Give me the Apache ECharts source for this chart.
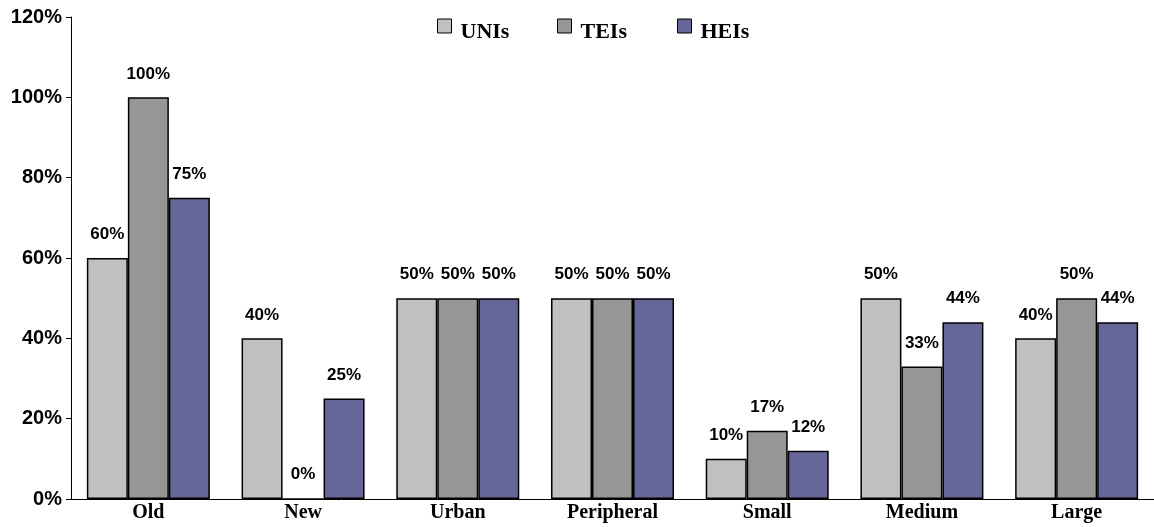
<!DOCTYPE html>
<html>
<head>
<meta charset="utf-8">
<script src="https://cdn.jsdelivr.net/npm/echarts@6/dist/echarts.min.js"></script>
<style>html,body{margin:0;padding:0;background:#fff;}#c{width:1154px;height:527px;}</style>
</head>
<body>
<div id="c"></div>
<script>
const categories = ['Old', 'New', 'Urban', 'Peripheral', 'Small', 'Medium', 'Large'];
const seriesNames = ['UNIs', 'TEIs', 'HEIs'];
const uniValues = [60, 40, 50, 50, 10, 50, 40];
const teiValues = [100, 0, 50, 50, 17, 33, 50];
const heiValues = [75, 25, 50, 50, 12, 44, 44];
const yTicks = [0, 20, 40, 60, 80, 100, 120];

const colors = ['#C0C0C0', '#969696', '#666699'];
const allValues = [uniValues, teiValues, heiValues];
const legendLefts = [437, 557, 677];

const chart = echarts.init(document.getElementById('c'), null, {renderer: 'canvas'});
chart.setOption({
  animation: false,
  grid: {left: 71, top: 17, width: 1085, bottom: 28, containLabel: false},
  legend: seriesNames.map((n, i) => ({
    top: 9, left: legendLefts[i], padding: 0,
    itemWidth: 14, itemHeight: 14,
    icon: 'rect',
    itemStyle: {borderColor: '#000', borderWidth: 1},
    formatter: '{t|{name}}',
    textStyle: {
      rich: {t: {fontFamily: 'Liberation Serif', fontWeight: 'bold', fontSize: 22, color: '#000', padding: [12, 0, 0, 4], lineHeight: 22}}
    },
    data: [n]
  })),
  xAxis: {
    type: 'category',
    data: categories,
    axisLine: {lineStyle: {color: '#000', width: 1}},
    axisTick: {show: false},
    axisLabel: {fontFamily: 'Liberation Serif', fontWeight: 'bold', fontSize: 20, color: '#000', margin: 4}
  },
  yAxis: {
    type: 'value',
    min: 0, max: 120, interval: 20,
    axisLine: {show: true, lineStyle: {color: '#000', width: 1}},
    axisTick: {show: true, length: 5, lineStyle: {color: '#000'}},
    splitLine: {show: false},
    axisLabel: {fontFamily: 'Liberation Sans', fontWeight: 'bold', fontSize: 20, color: '#000', margin: 9,
      formatter: v => yTicks.includes(v) ? v + '%' : ''}
  },
  series: seriesNames.map((n, i) => ({
    name: n,
    type: 'bar',
    data: allValues[i],
    barWidth: 41,
    barGap: '0%',
    itemStyle: {color: colors[i], borderColor: '#000', borderWidth: 1.5},
    label: {show: true, position: 'top', distance: 15, formatter: p => p.value + '%',
      fontFamily: 'Liberation Sans', fontWeight: 'bold', fontSize: 17, color: '#000'}
  }))
});
</script>
</body>
</html>
